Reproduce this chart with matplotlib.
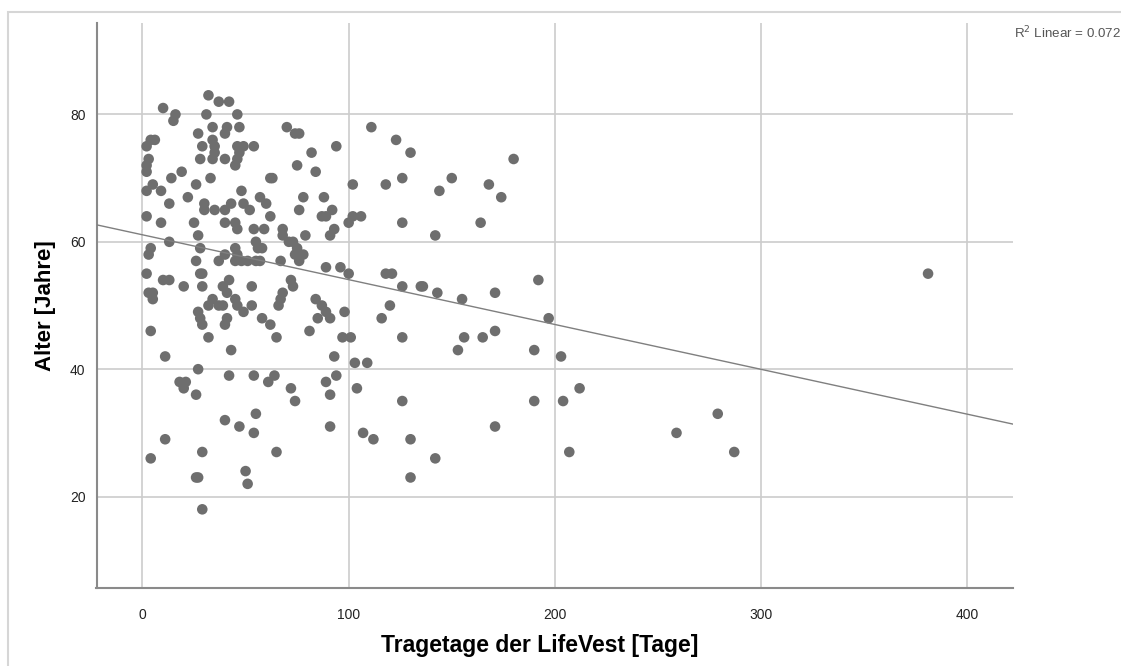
import matplotlib
matplotlib.use("Agg")
import matplotlib.pyplot as plt
from matplotlib.patches import Rectangle
import numpy as np

# (Tragetage, Alter) pairs
points = [
    (10,81),(16,80),(15,79),(32,83),(37,82),(42,82),(31,80),(46,80),(34,78),(41,78),(40,77),(47,78),
    (27,77),(34,76),(29,75),(35,75),(35,74),(34,73),(28,73),(40,73),(46,75),(49,75),(54,75),(47,74),
    (46,73),(45,72),(70,78),(74,77),(76,77),(4,76),(6,76),(2,75),(3,73),(2,72),(2,71),(19,71),(14,70),
    (33,70),(62,70),(63,70),(5,69),(2,68),(9,68),(26,69),(22,67),(48,68),(57,67),(60,66),(13,66),
    (30,66),(30,65),(35,65),(40,65),(43,66),(49,66),(52,65),(62,64),(2,64),(9,63),(25,63),(40,63),
    (45,63),(46,62),(54,62),(59,62),(68,62),(27,61),(68,61),(71,60),(13,60),(55,60),(56,59),(4,59),
    (3,58),(28,59),(45,59),(40,58),(46,58),
    (111,78),(94,75),(82,74),(75,72),(84,71),(102,69),(118,69),(78,67),(88,67),(76,65),(87,64),(89,64),
    (92,65),(100,63),(102,64),(106,64),(93,62),(91,61),(79,61),(73,60),(75,59),(78,58),(76,57),(74,58),
    (58,59),(67,57),
    (26,57),(37,57),(45,57),(48,57),(51,57),(55,57),(57,57),(2,55),(28,55),(29,55),(10,54),(13,54),
    (20,53),(29,53),(39,53),(42,54),(53,53),(72,54),(73,53),(3,52),(5,52),(5,51),(41,52),(45,51),
    (46,50),(34,51),(32,50),(37,50),(39,50),(49,49),(53,50),(67,51),(68,52),(66,50),(27,49),(28,48),
    (29,47),(41,48),(40,47),(58,48),(62,47),(4,46),(32,45),(65,45),(43,43),(11,42),(27,40),(18,38),
    (21,38),(20,37),(26,36),(42,39),(54,39),(61,38),(64,39),(72,37),(40,32),(47,31),(55,33),
    (54,30),(11,29),(4,26),(29,27),(26,23),(27,23),(50,24),(51,22),(65,27),(29,18),
    (89,56),(96,56),(100,55),(118,55),(84,51),(87,50),(89,49),(91,48),(85,48),(81,46),(98,49),(97,45),
    (101,45),(116,48),(120,50),(93,42),(103,41),(109,41),(74,35),(89,38),(94,39),(91,36),(104,37),
    (91,31),(107,30),(112,29),
    (123,76),(130,74),(126,70),(144,68),(150,70),(168,69),(174,67),(180,73),(126,63),(142,61),(164,63),
    (121,55),(126,53),(135,53),(136,53),(143,52),(155,51),(171,52),(192,54),(197,48),
    (126,45),(156,45),(153,43),(165,45),(171,46),(190,43),(203,42),(126,35),(190,35),(204,35),(212,37),
    (171,31),(130,29),(142,26),(130,23),(207,27),
    (381,55),(279,33),(259,30),(287,27),
]
tragetage = [p[0] for p in points]
alter = [p[1] for p in points]

fit_intercept = 61.1
fit_slope = -0.0704
r2_label = "R$^2$ Linear = 0.072"

x_ticks = [0, 100, 200, 300, 400]
y_ticks = [20, 40, 60, 80]
x_label = "Tragetage der LifeVest [Tage]"
y_label = "Alter [Jahre]"

plt.rcParams['font.family'] = ['Liberation Sans', 'DejaVu Sans']

W, H = 1121, 666
fig = plt.figure(figsize=(W / 100, H / 100), dpi=100)
fig.patch.set_facecolor("white")

# outer frame
fig.patches.append(Rectangle((8 / W, -0.05), 1.2, 1 - 12 / H + 0.05, transform=fig.transFigure,
                             fill=False, edgecolor="#d6d6d6", linewidth=1.5))

ax = fig.add_axes([96.5 / W, 1 - 588.3 / H, (1013 - 96.5) / W, (588.3 - 22.7) / H])
xlim = (-22.3, 422.2)
ylim = (5.6, 94.4)
ax.set_xlim(*xlim)
ax.set_ylim(*ylim)

for xt in x_ticks:
    ax.axvline(xt, color="#cccccc", lw=1.2, zorder=0)
for yt in y_ticks:
    ax.axhline(yt, color="#cccccc", lw=1.2, zorder=0)

ax.scatter(tragetage, alter, s=58, color="#6e6e6e", edgecolors="none", zorder=3)

xs = np.array(xlim)
ax.plot(xs, fit_intercept + fit_slope * xs, color="#7f7f7f", lw=1.0, zorder=4)

for s in ["top", "right"]:
    ax.spines[s].set_visible(False)
for s in ["left", "bottom"]:
    ax.spines[s].set_color("#8a8a8a")
    ax.spines[s].set_linewidth(1.5)

ax.set_xticks(x_ticks)
ax.set_yticks(y_ticks)
ax.tick_params(axis="both", length=0, labelsize=10, colors="#222222")
ax.tick_params(axis="x", pad=14)
ax.tick_params(axis="y", pad=8)

ax.set_xlabel(x_label, fontsize=16.5, fontweight="bold", labelpad=9)
ax.xaxis.label.set_x((540 - 96.5) / (1013 - 96.5))
ax.set_ylabel(y_label, fontsize=16, fontweight="bold", labelpad=10)

fig.text(1014 / W, 1 - 33 / H, r2_label, fontsize=9.6, color="#555555", va="center", ha="left")

fig.savefig("out.png", dpi=100)
